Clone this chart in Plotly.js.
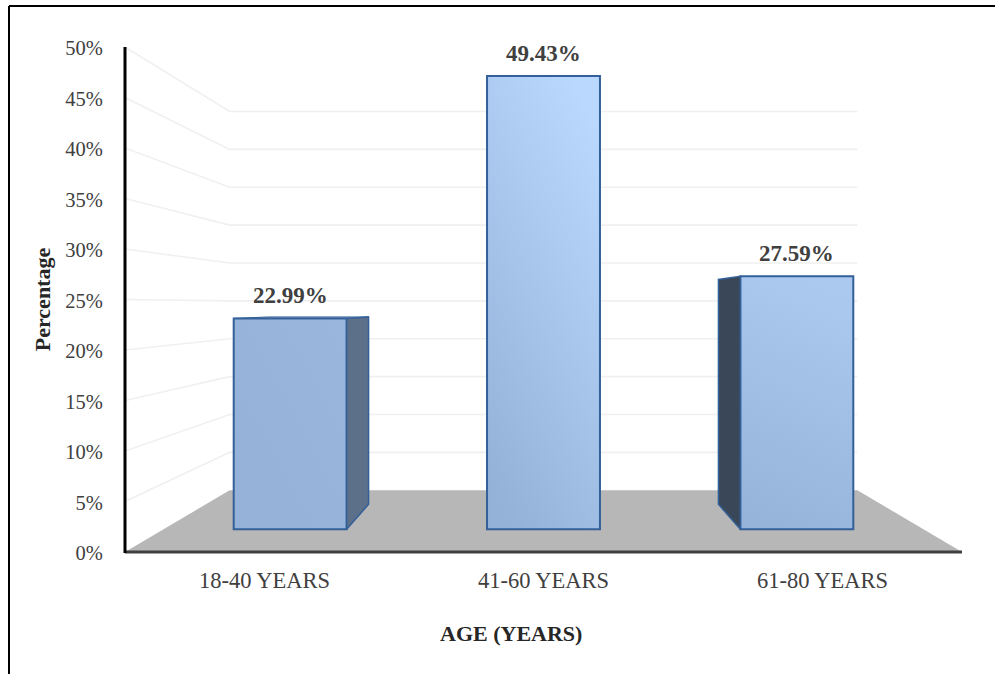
<!DOCTYPE html>
<html>
<head>
<meta charset="utf-8">
<script src="https://cdn.plot.ly/plotly-3.0.1.min.js"></script>
<style>html,body{margin:0;padding:0;background:#fff}#chart{width:995px;height:674px}</style>
</head>
<body>
<div id="chart"></div>
<script>
// Age distribution, drawn as a perspective column chart.
const categories = ['18-40 YEARS', '41-60 YEARS', '61-80 YEARS'];
const percentages = [22.99, 49.43, 27.59];
const valueLabels = ['22.99%', '49.43%', '27.59%'];
const wallTicks = [0, 5, 10, 15, 20, 25, 30, 35, 40, 45, 50];
const wallTickLabels = ['0%', '5%', '10%', '15%', '20%', '25%', '30%', '35%', '40%', '45%', '50%'];
const sideColors = ['#5D7089', null, '#3A4759'];

// Plot box in pixels.
const W = 995, H = 674, L = 125, R = 33, T = 47, B = 122;

// Perspective: every depth plane shrinks towards one vanishing point.
const xRange = [-0.5, 2.5], yRange = [0, 50];
const vanishX = 1, vanishY = 24.45;
const depthBack = 0.75;     // rear wall relative to the axis plane
const depthFront = 0.908;   // front faces of the columns
const depthRear = 0.8886;   // rear faces relative to the front faces
const shrink = (v, c, s) => c + (v - c) * s;
const grow = (v, c, s) => c + (v - c) / s;

const traces = [];

// Floor
const backL = shrink(xRange[0], vanishX, depthBack);
const backR = shrink(xRange[1], vanishX, depthBack);
const backFloor = shrink(0, vanishY, depthBack);
traces.push({
  x: [xRange[0], backL, backR, xRange[1]],
  y: [0, backFloor, backFloor, 0],
  mode: 'lines', fill: 'toself', fillcolor: '#B7B7B7',
  line: {width: 0}, hoverinfo: 'skip', showlegend: false
});

// Gridlines running along the side wall and across the rear wall
wallTicks.filter(t => t > 0).forEach(t => {
  const yb = shrink(t, vanishY, depthBack);
  traces.push({
    x: [xRange[0], backL, backR], y: [t, yb, yb],
    mode: 'lines', line: {color: '#F0F0F0', width: 1.6},
    hoverinfo: 'skip', showlegend: false
  });
});

// Column front faces live on overlaid axes scaled for their depth plane.
const x2Range = xRange.map(v => grow(v, vanishX, depthFront));
const y2Range = yRange.map(v => grow(v, vanishY, depthFront));
const xIdx = categories.map((_, i) => i);
const barWidth = 0.4458;
const edge = '#34609A';

traces.push({
  type: 'bar', x: xIdx, y: percentages, width: barWidth,
  xaxis: 'x2', yaxis: 'y2', base: 0,
  marker: {color: '#9DBADF', line: {color: edge, width: 2}},
  hovertemplate: '%{y:.2f}%<extra></extra>', showlegend: false
});

// Side and top faces of each column, projected from its value.
percentages.forEach((v, i) => {
  const left = i - barWidth / 2, right = i + barWidth / 2;
  const bx = p => shrink(p, vanishX, depthRear);
  const by = p => shrink(p, vanishY, depthRear);
  if (sideColors[i]) {
    const xe = i < vanishX ? right : left;
    traces.push({
      x: [xe, bx(xe), bx(xe), xe, xe], y: [0, by(0), by(v), v, 0],
      xaxis: 'x2', yaxis: 'y2', mode: 'lines', fill: 'toself',
      fillcolor: sideColors[i], line: {color: edge, width: 1.5},
      hoverinfo: 'skip', showlegend: false
    });
  }
  if (v < vanishY) {
    traces.push({
      x: [left, bx(left), bx(right), right, left], y: [v, by(v), by(v), v, v],
      xaxis: 'x2', yaxis: 'y2', mode: 'lines', fill: 'toself',
      fillcolor: '#6F8DB5', line: {color: edge, width: 1},
      hoverinfo: 'skip', showlegend: false
    });
  }
});

const serif = '"Liberation Serif", "Times New Roman", serif';
const pw = W - L - R, ph = H - T - B;
const px = v => (v - L) / pw;
const py = v => 1 - (v - T) / ph;

const valueAnnotations = percentages.map((v, i) => ({
  xref: 'x2', yref: 'y2', x: i, y: v, text: '<b>' + valueLabels[i] + '</b>',
  showarrow: false, yanchor: 'bottom', yshift: 8,
  font: {family: serif, size: 23, color: '#404040'}
}));

const layout = {
  width: W, height: H,
  margin: {l: L, r: R, t: T, b: B, pad: 0},
  paper_bgcolor: '#fff', plot_bgcolor: 'rgba(0,0,0,0)',
  showlegend: false, bargap: 0,
  font: {family: serif, color: '#404040'},
  xaxis: {
    range: xRange, tickmode: 'array', tickvals: xIdx, ticktext: categories,
    showgrid: false, zeroline: false, showline: false,
    ticks: 'outside', ticklen: 8, tickcolor: 'rgba(0,0,0,0)',
    tickfont: {family: serif, size: 22.5, color: '#404040'}
  },
  yaxis: {
    range: yRange, tickmode: 'array', tickvals: wallTicks, ticktext: wallTickLabels,
    showgrid: false, zeroline: false, showline: false,
    ticks: 'outside', ticklen: 17, tickcolor: 'rgba(0,0,0,0)',
    tickfont: {family: serif, size: 20.5, color: '#404040'},
    ticklabelshift: 1,
    title: {text: '<b>Percentage</b>', standoff: 8, font: {family: serif, size: 22, color: '#262626'}}
  },
  xaxis2: {overlaying: 'x', range: x2Range, visible: false, anchor: 'y2'},
  yaxis2: {overlaying: 'y', range: y2Range, visible: false, anchor: 'x2'},
  annotations: valueAnnotations.concat([{
    xref: 'paper', yref: 'paper', x: px(510.5), y: py(633), yanchor: 'middle',
    text: '<b>AGE (YEARS)</b>', showarrow: false,
    font: {family: serif, size: 22, color: '#262626'}
  }]),
  shapes: [
    // Frame lines along the top and left of the figure
    {type: 'line', xref: 'paper', yref: 'paper', x0: px(9), x1: px(995), y0: py(6), y1: py(6), line: {color: '#000', width: 2}},
    {type: 'line', xref: 'paper', yref: 'paper', x0: px(9), x1: px(9), y0: py(6), y1: py(674), line: {color: '#000', width: 2}},
    // Axis lines
    {type: 'line', xref: 'paper', yref: 'paper', x0: px(125), x1: px(962), y0: py(552), y1: py(552), line: {color: '#404040', width: 3}},
    {type: 'line', xref: 'paper', yref: 'paper', x0: px(125), x1: px(125), y0: py(47), y1: py(553), line: {color: '#000', width: 3}}
  ]
};

// Each column front gets its own sheen, defined as an SVG gradient.
const sheens = [
  {x1: 0, y1: 1, x2: 1, y2: 0, stops: ['#94B1D7', '#9AB6DC']},
  {x1: 0.25, y1: 1, x2: 0.75, y2: 0, stops: ['#94B2D8', '#BAD7FE']},
  {x1: 0.3, y1: 1, x2: 0.5, y2: 0, stops: ['#96B3D9', '#ABC9EF']}
];

Plotly.newPlot('chart', traces, layout, {displayModeBar: false, staticPlot: true}).then(gd => {
  const NS = 'http://www.w3.org/2000/svg';
  const svg = gd.querySelector('.main-svg');
  let defs = svg.querySelector('defs');
  if (!defs) { defs = document.createElementNS(NS, 'defs'); svg.prepend(defs); }
  gd.querySelectorAll('.bars .point path').forEach((path, i) => {
    const g = document.createElementNS(NS, 'linearGradient');
    const s = sheens[i];
    g.setAttribute('id', 'column-sheen-' + i);
    ['x1', 'y1', 'x2', 'y2'].forEach(k => g.setAttribute(k, s[k]));
    s.stops.forEach((c, j) => {
      const st = document.createElementNS(NS, 'stop');
      st.setAttribute('offset', j);
      st.setAttribute('stop-color', c);
      g.appendChild(st);
    });
    defs.appendChild(g);
    path.style.fill = 'url(#column-sheen-' + i + ')';
  });
});
</script>
</body>
</html>
